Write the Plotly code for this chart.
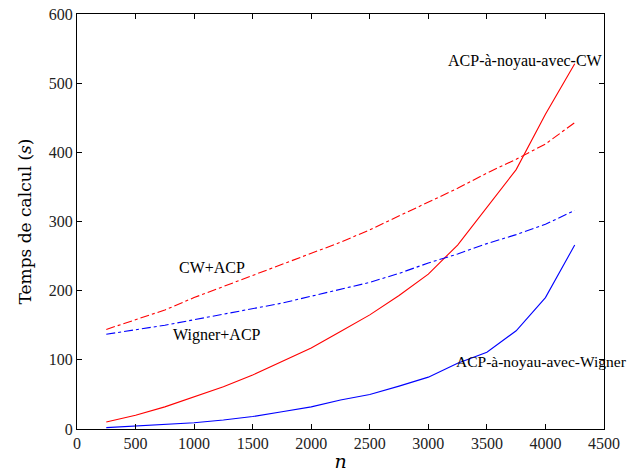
import plotly.graph_objects as go

n = [250, 500, 750, 1000, 1250, 1500, 1750, 2000, 2250, 2500, 2750, 3000, 3250, 3500, 3750, 4000, 4250]
acp_noyau_cw = [10, 20, 32, 46, 61, 78, 97, 117, 141, 165, 193, 224, 266, 320, 375, 455, 528]
acp_noyau_wigner = [2, 4, 6, 9, 13, 18, 25, 32, 42, 50, 62, 75, 95, 111, 142, 190, 266]
cw_acp = [144, 158, 172, 190, 206, 222, 238, 254, 270, 288, 308, 328, 348, 370, 390, 412, 443]
wigner_acp = [137, 143, 150, 158, 166, 174, 182, 192, 202, 212, 225, 240, 253, 268, 281, 296, 316]

x_ticks = [0, 500, 1000, 1500, 2000, 2500, 3000, 3500, 4000, 4500]
y_ticks = [0, 100, 200, 300, 400, 500, 600]

labels = [
    ("ACP-à-noyau-avec-CW", 3150, 532, 16),
    ("CW+ACP", 855, 233, 16),
    ("Wigner+ACP", 800, 136, 16),
    ("ACP-à-noyau-avec-Wigner", 3215, 97, 15.5),
]

fig = go.Figure()
fig.add_trace(go.Scatter(x=n, y=acp_noyau_cw, mode="lines", line=dict(color="red", width=1.1)))
fig.add_trace(go.Scatter(x=n, y=acp_noyau_wigner, mode="lines", line=dict(color="blue", width=1.1)))
fig.add_trace(go.Scatter(x=n, y=cw_acp, mode="lines", line=dict(color="red", width=1.1, dash="dashdot")))
fig.add_trace(go.Scatter(x=n, y=wigner_acp, mode="lines", line=dict(color="blue", width=1.1, dash="dashdot")))

for txt, xv, yv, fs in labels:
    fig.add_annotation(x=xv, y=yv, text=txt, showarrow=False, xanchor="left", yanchor="middle",
                       font=dict(family="Liberation Serif", size=fs, color="black"))

axis_common = dict(showgrid=False, zeroline=False, showline=True, linecolor="black", linewidth=1.2,
                   mirror="allticks", ticks="inside", ticklen=5, tickcolor="black", automargin=False,
                   ticklabeloverflow="allow",
                   tickfont=dict(family="Liberation Serif", size=16, color="#222"))

fig.update_xaxes(range=[0, 4500], tickvals=x_ticks, ticktext=[str(v) for v in x_ticks],
                 title=dict(text="<i>n</i>", font=dict(family="DejaVu Serif", size=19, color="black"), standoff=6),
                 **axis_common)
fig.update_yaxes(range=[0, 600], tickvals=y_ticks, ticktext=[str(v) for v in y_ticks],
                 title=dict(text="Temps de calcul (<i>s</i>)", font=dict(family="DejaVu Serif", size=17, color="black"), standoff=12),
                 **axis_common)

fig.update_layout(width=631, height=472, showlegend=False, plot_bgcolor="white", paper_bgcolor="white",
                  margin=dict(l=77, r=27, t=14, b=43))

fig.write_html("out.html", config={"displayModeBar": False},
               post_script="document.body.style.margin='0';document.body.style.overflow='hidden';")
